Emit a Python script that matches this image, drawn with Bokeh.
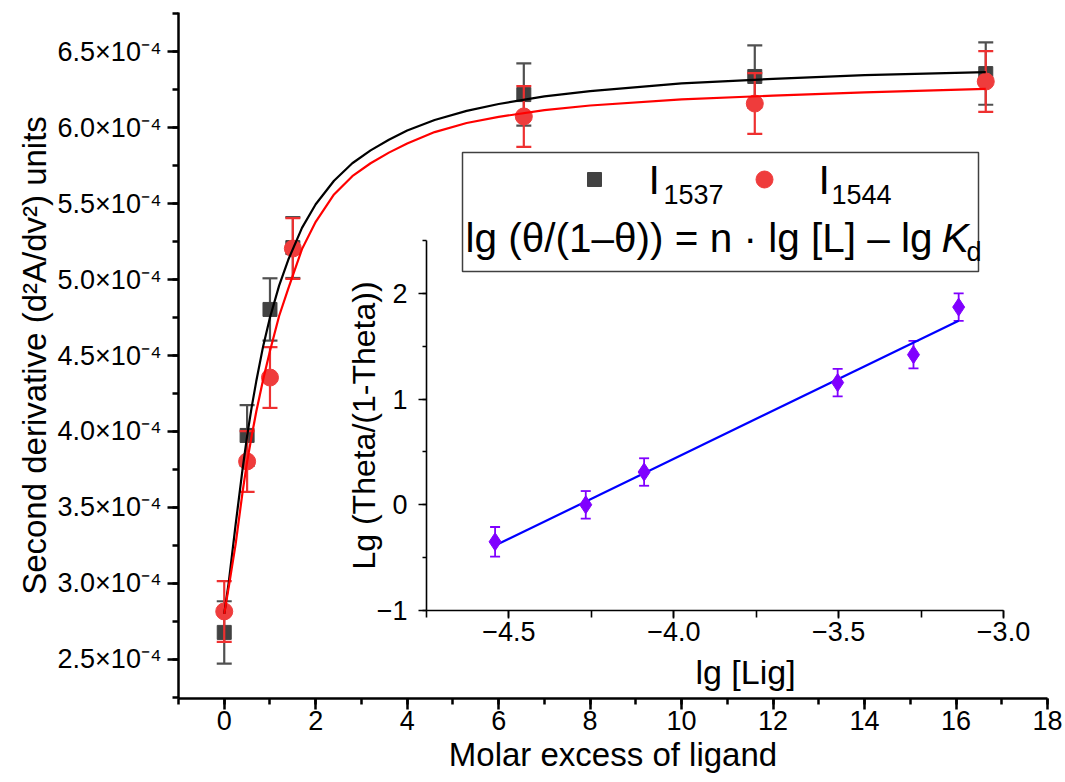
import numpy as np
from bokeh.plotting import figure
from bokeh.models import (Range1d, SingleIntervalTicker, CustomJSTickFormatter, Label,
                          BoxAnnotation, GridBox)
from bokeh.embed import file_html
from bokeh.resources import INLINE

# ---------------- data ----------------
ligand_excess = [0.0, 0.5, 1.0, 1.5, 6.55, 11.6, 16.65]
i1537 = [2.678e-4, 3.974e-4, 4.803e-4, 5.21e-4, 6.217e-4, 6.336e-4, 6.355e-4]
i1537_err = [2.05e-5, 2.0e-5, 2.05e-5, 2.0e-5, 2.05e-5, 2.05e-5, 2.05e-5]
i1544 = [2.816e-4, 3.803e-4, 4.355e-4, 5.204e-4, 6.073e-4, 6.158e-4, 6.303e-4]
i1544_err = [2.0e-5, 2.0e-5, 2.0e-5, 2.0e-5, 2.0e-5, 2.0e-5, 2.0e-5]

# fitted saturation curves
fit_x = [0.0, 0.1, 0.25, 0.4, 0.5, 0.6, 0.7, 0.85, 1.0, 1.2, 1.4, 1.7, 2.0, 2.4, 2.8,
         3.2, 3.6, 4.0, 4.6, 5.3, 6.0, 7.0, 8.0, 10.0, 12.0, 14.0, 16.65]
fit_1537 = [2.80e-4, 3.01e-4, 3.39e-4, 3.75e-4, 3.97e-4, 4.16e-4, 4.33e-4, 4.56e-4,
            4.75e-4, 4.96e-4, 5.13e-4, 5.34e-4, 5.495e-4, 5.65e-4, 5.765e-4, 5.85e-4,
            5.92e-4, 5.98e-4, 6.05e-4, 6.11e-4, 6.155e-4, 6.205e-4, 6.24e-4, 6.29e-4,
            6.32e-4, 6.345e-4, 6.365e-4]
fit_1544 = [2.80e-4, 2.98e-4, 3.26e-4, 3.60e-4, 3.80e-4, 3.97e-4, 4.13e-4, 4.34e-4,
            4.53e-4, 4.76e-4, 4.94e-4, 5.20e-4, 5.38e-4, 5.56e-4, 5.68e-4, 5.765e-4,
            5.835e-4, 5.895e-4, 5.97e-4, 6.03e-4, 6.07e-4, 6.115e-4, 6.145e-4, 6.185e-4,
            6.21e-4, 6.232e-4, 6.254e-4]

# inset (Hill plot)
lg_lig = [-4.542, -4.267, -4.09, -3.503, -3.273, -3.136]
lg_theta = [-0.35, 0.0, 0.31, 1.156, 1.42, 1.87]
lg_theta_err = [0.14, 0.13, 0.13, 0.13, 0.13, 0.13]

FONT = "Liberation Sans"
W, H = 1065, 782

# ---------------- main figure ----------------
FL, FT, FR, FB = 178, 12, 1047, 698
X0, X1 = -1.0, 18.0
Y0, Y1 = 2.243e-4, 6.757e-4

p = figure(width=W, height=H, x_range=Range1d(X0, X1), y_range=Range1d(Y0, Y1),
           min_border_left=FL, min_border_right=W - FR, min_border_top=FT,
           min_border_bottom=H - FB,
           output_backend="svg", toolbar_location=None)
p.frame_align = False
p.outline_line_color = None
p.grid.visible = False
p.background_fill_color = "white"
p.border_fill_color = "white"

p.xaxis.ticker = SingleIntervalTicker(interval=2, num_minor_ticks=2)
p.yaxis.ticker = SingleIntervalTicker(interval=0.5e-4, num_minor_ticks=2)
p.yaxis.formatter = CustomJSTickFormatter(code="return (tick*1e4).toFixed(1) + '\u00d710\u207b\u2074';")
p.xaxis.axis_label = "Molar excess of ligand"
p.yaxis.axis_label = "Second derivative (d\u00b2A/dv\u00b2) units"
for ax in p.axis:
    ax.axis_line_width = 2.5
    ax.major_tick_line_width = 2.5
    ax.minor_tick_line_width = 2.5
    ax.major_tick_out = 11
    ax.major_tick_in = 0
    ax.minor_tick_out = 6
    ax.minor_tick_in = 0
    ax.major_label_text_font = FONT
    ax.major_label_text_font_size = "27px"
    ax.major_label_text_color = "black"
    ax.axis_label_text_font = FONT
    ax.axis_label_text_font_size = "33px"
    ax.axis_label_text_font_style = "normal"
    ax.axis_label_text_color = "black"
p.yaxis.major_label_standoff = 6
p.yaxis.axis_label_standoff = 2
p.xaxis.major_label_standoff = 1
p.xaxis.axis_label_standoff = 3

GREY = "#424242"
GREY_BAR = "#505050"
RED = "#ef3c3c"
RED_BAR = "#ee3030"

lo37 = [v - e for v, e in zip(i1537, i1537_err)]
hi37 = [v + e for v, e in zip(i1537, i1537_err)]
lo44 = [v - e for v, e in zip(i1544, i1544_err)]
hi44 = [v + e for v, e in zip(i1544, i1544_err)]

p.segment(x0=ligand_excess, y0=lo37, x1=ligand_excess, y1=hi37, line_color=GREY_BAR, line_width=2.2)
p.scatter(x=ligand_excess, y=lo37, marker="dash", size=15, line_color=GREY_BAR, line_width=2.2)
p.scatter(x=ligand_excess, y=hi37, marker="dash", size=15, line_color=GREY_BAR, line_width=2.2)
p.scatter(x=ligand_excess, y=i1537, marker="square", size=14, fill_color=GREY, line_color=GREY)

p.segment(x0=ligand_excess, y0=lo44, x1=ligand_excess, y1=hi44, line_color=RED_BAR, line_width=2.2)
p.scatter(x=ligand_excess, y=lo44, marker="dash", size=15, line_color=RED_BAR, line_width=2.2)
p.scatter(x=ligand_excess, y=hi44, marker="dash", size=15, line_color=RED_BAR, line_width=2.2)
p.scatter(x=ligand_excess, y=i1544, marker="circle", size=17, fill_color=RED, line_color=RED)

p.line(fit_x, fit_1537, line_color="black", line_width=2.2)
p.line(fit_x, fit_1544, line_color="#ff0000", line_width=2.2)


# legend (positions given in screen pixels, converted to data space)
def sx(px):
    return X0 + (px - FL) / (FR - FL) * (X1 - X0)


def sy(py):
    return Y1 - (py - FT) / (FB - FT) * (Y1 - Y0)


box = BoxAnnotation(left=sx(462), right=sx(978), top=sy(152), bottom=sy(271),
                    fill_color="white", fill_alpha=1.0, line_color="#404040", line_alpha=1.0,
                    line_width=1.5, level="underlay")
p.add_layout(box)
p.scatter(x=[sx(594)], y=[sy(179)], marker="square", size=14, fill_color=GREY, line_color=GREY)
p.scatter(x=[sx(764)], y=[sy(179)], marker="circle", size=17, fill_color=RED, line_color=RED)


def lab(px, py, text, size, style="normal", align="left"):
    p.add_layout(Label(x=sx(px), y=sy(py), text=text, text_font=FONT,
                       text_font_size=size, text_font_style=style, text_color="black",
                       text_align=align, text_baseline="alphabetic"))


lab(648, 179, "I", "41px")
lab(663, 194, "1537", "27px")
lab(818, 179, "I", "41px")
lab(831, 194, "1544", "27px")
lab(465, 237, "lg (\u03b8/(1\u2013\u03b8)) = n \u00b7 lg [L] \u2013 lg", "40.5px")
lab(941, 237, "K", "41px", "italic")
lab(966, 251, "d", "27px")
# x-axis title of the inset (sits right of the inset frame centre, as in the reference)
lab(745, 671, "lg [Lig]", "34px", align="center")

# ---------------- inset (same canvas size, frame placed by borders) ----------------
IL, IT, IR, IB = 426, 240, 1003, 610
IX0, IX1, IY0, IY1 = -4.75, -3.0, -1.0, 2.5
q = figure(width=W, height=H,
           x_range=Range1d(IX0, IX1), y_range=Range1d(IY0, IY1),
           min_border_left=IL, min_border_top=IT, min_border_right=W - IR, min_border_bottom=H - IB,
           output_backend="svg", toolbar_location=None)
q.frame_align = False
q.background_fill_alpha = 0
q.border_fill_alpha = 0
q.outline_line_color = None
q.grid.visible = False

q.xaxis.ticker = SingleIntervalTicker(interval=0.5, num_minor_ticks=2)
q.yaxis.ticker = SingleIntervalTicker(interval=1, num_minor_ticks=2)
q.xaxis.formatter = CustomJSTickFormatter(
    code="return (tick < -1e-9 ? '\u2212' : '') + Math.abs(tick).toFixed(1);")
q.yaxis.formatter = CustomJSTickFormatter(
    code="return (tick < -1e-9 ? '\u2212' : '') + Math.abs(tick).toFixed(0);")
q.yaxis.axis_label = "Lg (Theta/(1-Theta))"
for ax in q.axis:
    ax.axis_line_width = 1.6
    ax.major_tick_line_width = 1.6
    ax.minor_tick_line_width = 1.6
    ax.major_tick_out = 8
    ax.major_tick_in = 0
    ax.minor_tick_in = 0
    ax.major_label_text_font = FONT
    ax.major_label_text_font_size = "27px"
    ax.major_label_text_color = "black"
    ax.axis_label_text_font = FONT
    ax.axis_label_text_font_size = "32px"
    ax.axis_label_text_font_style = "normal"
    ax.axis_label_text_color = "black"
q.xaxis.minor_tick_out = 7
q.yaxis.minor_tick_out = 4
q.yaxis.major_label_standoff = 11
q.yaxis.axis_label_standoff = -8
q.xaxis.major_label_standoff = 3

VIOLET = "#8000ff"
slope, intercept = np.polyfit(lg_lig, lg_theta, 1)
fx = [min(lg_lig), max(lg_lig)]
fy = [slope * v + intercept for v in fx]

lo_t = [v - e for v, e in zip(lg_theta, lg_theta_err)]
hi_t = [v + e for v, e in zip(lg_theta, lg_theta_err)]
q.segment(x0=lg_lig, y0=lo_t, x1=lg_lig, y1=hi_t, line_color=VIOLET, line_width=1.8)
q.scatter(x=lg_lig, y=lo_t, marker="dash", size=10, line_color=VIOLET, line_width=1.8)
q.scatter(x=lg_lig, y=hi_t, marker="dash", size=10, line_color=VIOLET, line_width=1.8)
q.line(fx, fy, line_color="#0000ff", line_width=2.2)
q.scatter(x=lg_lig, y=lg_theta, marker="diamond", size=18, fill_color=VIOLET, line_color=VIOLET)

root = GridBox(children=[(p, 0, 0), (q, 0, 0)])

with open("out.html", "w") as f:
    f.write(file_html(root, INLINE))
